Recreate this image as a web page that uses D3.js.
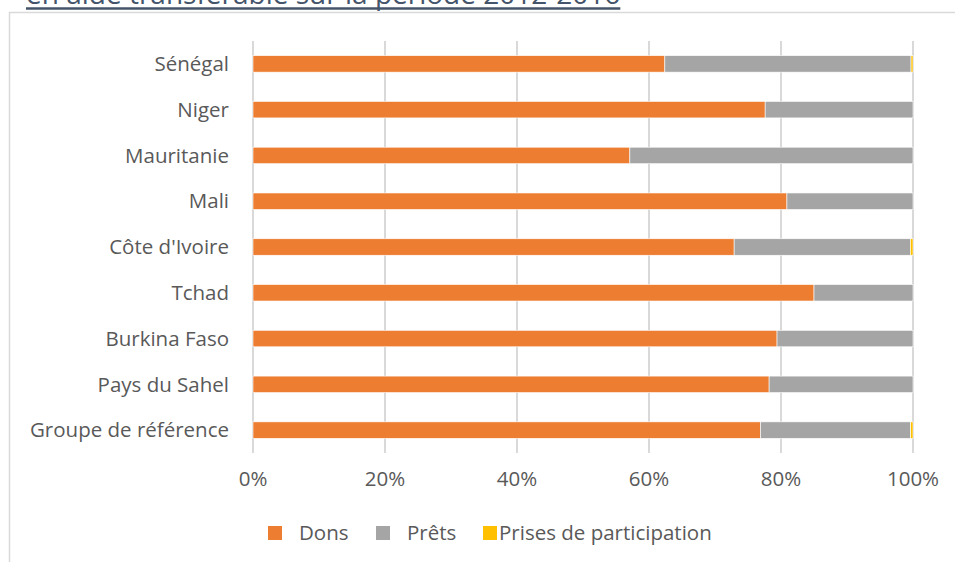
<!DOCTYPE html>
<html>
<head>
<meta charset="utf-8">
<script src="https://cdn.jsdelivr.net/npm/d3@7"></script>
<style>
  body { margin: 0; background: #fff; }
  svg { display: block; }
</style>
</head>
<body>
<div id="chart"></div>
<script>
// Data (percent of transferable aid, 2012-2016), top to bottom
const categories = ['Sénégal', 'Niger', 'Mauritanie', 'Mali', "Côte d'Ivoire", 'Tchad', 'Burkina Faso', 'Pays du Sahel', 'Groupe de référence'];
const dons   = [62.4, 77.6, 57.1, 80.9, 72.9, 85.0, 79.4, 78.2, 76.9];
const prets  = [37.3, 22.4, 42.9, 19.1, 26.7, 15.0, 20.6, 21.8, 22.75];
const prises = [0.3, 0.0, 0.0, 0.0, 0.4, 0.0, 0.0, 0.0, 0.35];
const seriesNames = ['Dons', 'Prêts', 'Prises de participation'];
const seriesColors = ['#ED7D31', '#A5A5A5', '#FFC000'];
const xTicks = [0, 20, 40, 60, 80, 100];
const titleText = 'en aide transférable sur la période 2012-2016';

const width = 955, height = 562;
const margin = { top: 41, right: 42, bottom: 115, left: 253 };
const fontSize = '20.5px';

const svg = d3.select('#chart').append('svg')
    .attr('width', width)
    .attr('height', height)
    .style('font-family', '"Open Sans", sans-serif');

// Cut-off heading above the chart frame
const title = svg.append('text')
    .attr('x', 26)
    .attr('y', 4)
    .attr('fill', '#44546A')
    .style('font-size', '28px')
    .text(titleText);
const titleW = title.node().getComputedTextLength();
svg.append('line')
    .attr('x1', 26).attr('x2', 26 + titleW)
    .attr('y1', 8.5).attr('y2', 8.5)
    .attr('stroke', '#44546A')
    .attr('stroke-width', 2.5);

// Chart frame (only top and left edges are visible)
svg.append('path')
    .attr('d', `M9.5,${height}V12.5H${width}`)
    .attr('fill', 'none')
    .attr('stroke', '#D9D9D9')
    .attr('stroke-width', 1.5);

const x = d3.scaleLinear()
    .domain([0, 100])
    .range([margin.left, width - margin.right]);

const y = d3.scaleBand()
    .domain(categories)
    .range([margin.top, height - margin.bottom + 6])
    .paddingInner(0.64)
    .paddingOuter(0.32);

// Gridlines
svg.append('g')
    .selectAll('line')
    .data(xTicks)
    .join('line')
    .attr('x1', d => x(d)).attr('x2', d => x(d))
    .attr('y1', margin.top).attr('y2', height - margin.bottom + 6)
    .attr('stroke', '#D9D9D9')
    .attr('stroke-width', 2);

// Stacked bars
const rows = categories.map((c, i) => ({ cat: c, Dons: dons[i], 'Prêts': prets[i], 'Prises de participation': prises[i] }));
const stacked = d3.stack().keys(seriesNames)(rows);

svg.append('g')
    .selectAll('g')
    .data(stacked)
    .join('g')
    .attr('fill', (d, i) => seriesColors[i])
    .selectAll('rect')
    .data(d => d)
    .join('rect')
    .attr('x', d => x(d[0]))
    .attr('y', d => y(d.data.cat))
    .attr('width', d => Math.max(0, x(d[1]) - x(d[0])))
    .attr('height', y.bandwidth())
    .attr('stroke', '#fff')
    .attr('stroke-width', d => (d[1] - d[0]) > 0 ? 0.6 : 0);

// Category labels
svg.append('g')
    .selectAll('text')
    .data(categories)
    .join('text')
    .attr('x', margin.left - 24)
    .attr('y', d => y(d) + y.bandwidth() / 2)
    .attr('dy', '0.35em')
    .attr('text-anchor', 'end')
    .attr('fill', '#595959')
    .style('font-size', fontSize)
    .text(d => d);

// X tick labels
svg.append('g')
    .selectAll('text')
    .data(xTicks)
    .join('text')
    .attr('x', d => x(d))
    .attr('y', 479)
    .attr('dy', '0.35em')
    .attr('text-anchor', 'middle')
    .attr('fill', '#595959')
    .style('font-size', fontSize)
    .text(d => d + '%');

// Legend
const legendX = [268, 376, 483];
const legendTextDx = [31, 31, 16];
const legend = svg.append('g')
    .selectAll('g')
    .data(seriesNames)
    .join('g')
    .attr('transform', (d, i) => `translate(${legendX[i]},533)`);
legend.append('rect')
    .attr('x', 0).attr('y', -7)
    .attr('width', 14).attr('height', 14)
    .attr('fill', (d, i) => seriesColors[i]);
legend.append('text')
    .attr('x', (d, i) => legendTextDx[i])
    .attr('dy', '0.35em')
    .attr('fill', '#595959')
    .style('font-size', fontSize)
    .text(d => d);
</script>
</body>
</html>
